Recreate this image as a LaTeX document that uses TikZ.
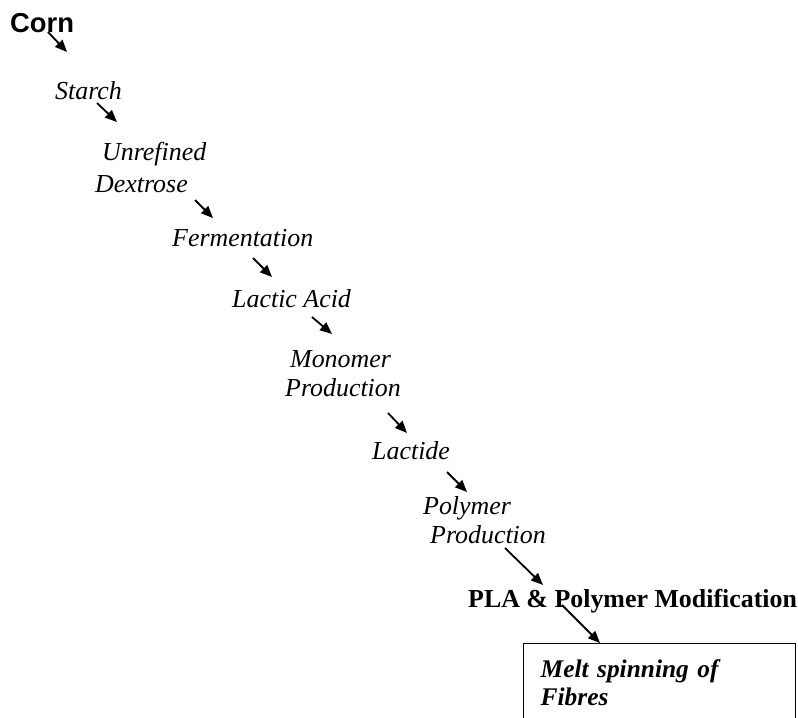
\documentclass[tikz,border=0pt]{standalone}
\usepackage{fontspec}
\setmainfont{Liberation Serif}
\setsansfont{Liberation Sans}
\usetikzlibrary{arrows.meta}

\tikzset{
	stage/.style={anchor=north west, inner sep=0pt, align=left, font=\fontsize{26}{29}\selectfont\itshape},
	arr/.style={line width=1.8bp, -{Triangle[length=12bp,width=10bp]}},
}

\begin{document}
\begin{tikzpicture}[x=1bp, y=-1bp]
	\useasboundingbox (0,0) rectangle (798,718);
	\node[anchor=north west, inner sep=0pt, font=\fontsize{27.5}{30}\selectfont\sffamily\bfseries] (corn) at (10,13) {Corn};
	\node[stage] (starch) at (55,81) {Starch};
	\node[stage] (dext) at (95,142) {\hspace*{7bp}Unrefined\\[3bp]Dextrose};
	\node[stage] (ferm) at (172,229) {Fermentation};
	\node[stage] (lactic) at (232,289) {Lactic Acid};
	\node[stage] (mono) at (285,350) {\hspace*{5bp}Monomer\\Production};
	\node[stage] (lactide) at (372,441) {Lactide};
	\node[stage] (poly) at (423,496) {Polymer\\\hspace*{7bp}Production};
	\node[anchor=north west, inner sep=0pt, font=\fontsize{26}{29}\selectfont\bfseries] (pla) at (468,589) {PLA \& Polymer Modification};
	\node[draw, line width=1.4bp, anchor=north west, inner xsep=17bp, inner ysep=16bp, text width=238bp, align=left, font=\fontsize{25.5}{28}\selectfont\bfseries\itshape] (melt) at (523,643) {Melt spinning of\\Fibres\\\rule{0pt}{30bp}};
	
	\draw[arr] ([shift={(38,19)}]corn.north west) -- ([shift={(12,-29)}]starch.north west);
	\draw[arr] ([shift={(42,22)}]starch.north west) -- ([shift={(22,-20)}]dext.north west);
	\draw[arr] ([shift={(100,58)}]dext.north west) -- ([shift={(41,-11)}]ferm.north west);
	\draw[arr] ([shift={(81,29)}]ferm.north west) -- ([shift={(40,-12)}]lactic.north west);
	\draw[arr] ([shift={(80,28)}]lactic.north west) -- ([shift={(47,-16)}]mono.north west);
	\draw[arr] ([shift={(103,63)}]mono.north west) -- ([shift={(35,-8)}]lactide.north west);
	\draw[arr] ([shift={(75,31)}]lactide.north west) -- ([shift={(44,-4)}]poly.north west);
	\draw[arr] ([shift={(82,52)}]poly.north west) -- ([shift={(75,-4)}]pla.north west);
	\draw[arr] ([shift={(94,16)}]pla.north west) -- ([shift={(77,0)}]melt.north west);
\end{tikzpicture}
\end{document}
